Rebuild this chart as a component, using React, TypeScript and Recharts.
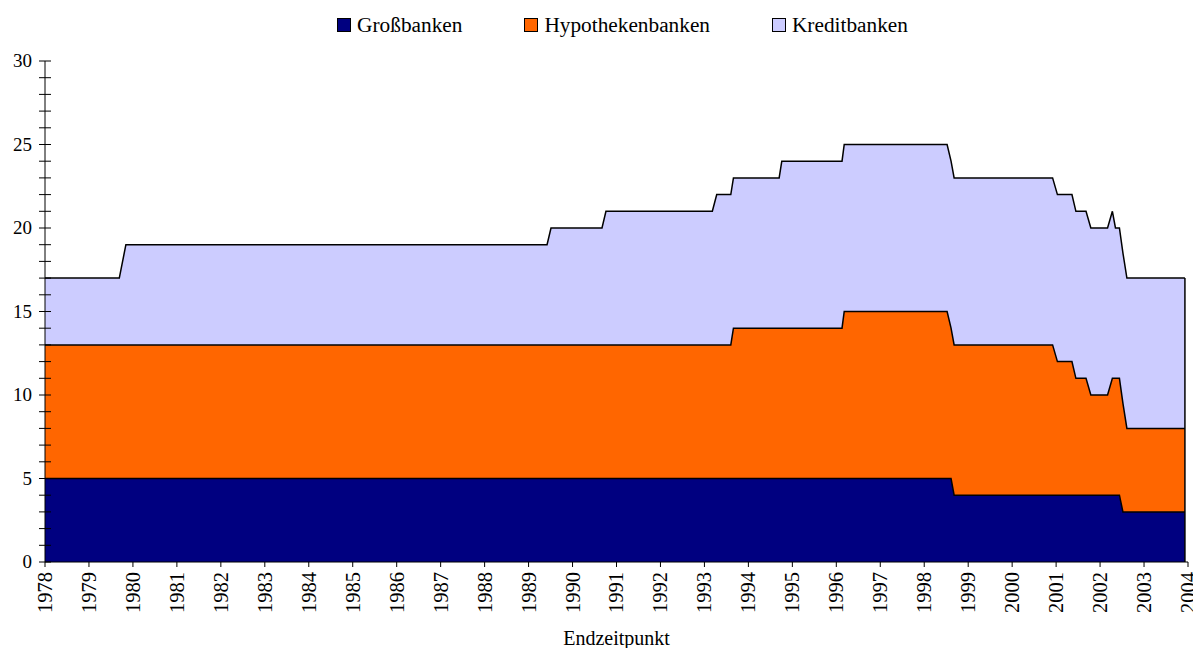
import { ComposedChart, Area, Line, XAxis, YAxis, ReferenceLine, Label } from 'recharts'

// Zeitpunkte (Jahresbruchteile) und Anzahl je Bankengruppe
const times = [
  1978.0, 1979.69, 1979.84, 1989.42, 1989.51, 1990.67, 1990.76, 1993.18, 1993.28, 1993.6,
  1993.66, 1994.7, 1994.76, 1996.13, 1996.18, 1998.52, 1998.61, 1998.68, 2000.92, 2001.03,
  2001.36, 2001.45, 2001.68, 2001.79, 2002.17, 2002.28, 2002.35, 2002.44, 2002.52, 2002.61,
  2003.93,
]
const grossbanken = [
  5, 5, 5, 5, 5, 5, 5, 5, 5, 5,
  5, 5, 5, 5, 5, 5, 5, 4, 4, 4,
  4, 4, 4, 4, 4, 4, 4, 4, 3, 3,
  3,
]
const hypothekenbanken = [
  8, 8, 8, 8, 8, 8, 8, 8, 8, 8,
  9, 9, 9, 9, 10, 10, 9, 9, 9, 8,
  8, 7, 7, 6, 6, 7, 7, 7, 6.5, 5,
  5,
]
const kreditbanken = [
  4, 4, 6, 6, 7, 7, 8, 8, 9, 9,
  9, 9, 10, 10, 10, 10, 10, 10, 10, 10,
  10, 10, 10, 10, 10, 10, 9, 9, 9, 9,
  9,
]

const years = Array.from({ length: 27 }, (_, i) => 1978 + i)
const yTicks = Array.from({ length: 31 }, (_, i) => i)

const SERIES = [
  { key: 'gross', name: 'Großbanken', color: '#000080' },
  { key: 'hypo', name: 'Hypothekenbanken', color: '#ff6600' },
  { key: 'kredit', name: 'Kreditbanken', color: '#ccccff' },
]

const data = times.map((t, i) => ({
  t,
  gross: grossbanken[i],
  hypo: hypothekenbanken[i],
  kredit: kreditbanken[i],
}))

// kumulierte Grenzen für die schwarzen Konturlinien
const edges = [
  (d: any) => d.gross,
  (d: any) => d.gross + d.hypo,
  (d: any) => d.gross + d.hypo + d.kredit,
]

const last = data[data.length - 1]
const lastTotal = last.gross + last.hypo + last.kredit

const FONT = "'Liberation Serif', 'DejaVu Serif', serif"

const YTick = ({ x, y, payload }: any) => (
  <g>
    <line x1={x - 6} x2={x + 6} y1={y} y2={y} stroke="#000" strokeWidth={1} />
    {payload.value % 5 === 0 && (
      <text x={x - 13} y={y} dy={6} textAnchor="end" fontSize={19} style={{ fontFamily: FONT }} fill="#000">
        {payload.value}
      </text>
    )}
  </g>
)

const XTick = ({ x, y, payload }: any) => (
  <g>
    <line x1={x} x2={x} y1={y} y2={y + 5} stroke="#000" strokeWidth={1} />
    <text
      x={x}
      y={y + 10}
      dy="0.34em"
      textAnchor="end"
      transform={`rotate(-90, ${x}, ${y + 10})`}
      fontSize={20.5}
      style={{ fontFamily: FONT }}
      fill="#000"
    >
      {payload.value}
    </text>
  </g>
)

export default function App() {
  return (
    <div style={{ position: 'absolute', left: 0, top: 0, width: 1193, height: 648, background: '#fff', fontFamily: FONT }}>
      <div
        style={{
          position: 'absolute',
          top: 12,
          left: 26,
          width: 1193,
          display: 'flex',
          justifyContent: 'center',
          gap: 62,
          fontSize: 21.3,
          lineHeight: '26px',
          fontFamily: FONT,
        }}
      >
        {SERIES.map((s) => (
          <div key={s.key} style={{ display: 'flex', alignItems: 'center' }}>
            <span style={{ width: 12, height: 12, background: s.color, border: '1px solid #000', marginRight: 6 }} />
            <span>{s.name}</span>
          </div>
        ))}
      </div>
      <ComposedChart width={1193} height={648} data={data} margin={{ top: 61, right: 5, bottom: 0, left: 0 }}>
        <XAxis
          dataKey="t"
          type="number"
          domain={[1978, 2004]}
          ticks={years}
          interval={0}
          height={86}
          tickSize={0}
          tickMargin={0}
          tickLine={false}
          axisLine={{ stroke: '#000', strokeWidth: 1 }}
          tick={<XTick />}
        >
          <Label
            value="Endzeitpunkt"
            position="insideBottom"
            offset={3}
            fontSize={20}
            style={{ fontFamily: FONT }}
            fill="#000"
          />
        </XAxis>
        <YAxis
          type="number"
          domain={[0, 30]}
          ticks={yTicks}
          interval={0}
          width={45}
          tickSize={0}
          tickMargin={0}
          tickLine={false}
          axisLine={{ stroke: '#000', strokeWidth: 1 }}
          tick={<YTick />}
        />
        {SERIES.map((s) => (
          <Area
            key={s.key}
            type="linear"
            dataKey={s.key}
            name={s.name}
            stackId="1"
            fill={s.color}
            fillOpacity={1}
            stroke="none"
            isAnimationActive={false}
          />
        ))}
        {edges.map((fn, i) => (
          <Line
            key={i}
            type="linear"
            dataKey={fn}
            stroke="#000"
            strokeWidth={1.5}
            dot={false}
            activeDot={false}
            legendType="none"
            isAnimationActive={false}
          />
        ))}
        <ReferenceLine
          segment={[
            { x: last.t, y: 0 },
            { x: last.t, y: lastTotal },
          ]}
          stroke="#000"
          strokeWidth={1.5}
        />
      </ComposedChart>
    </div>
  )
}
